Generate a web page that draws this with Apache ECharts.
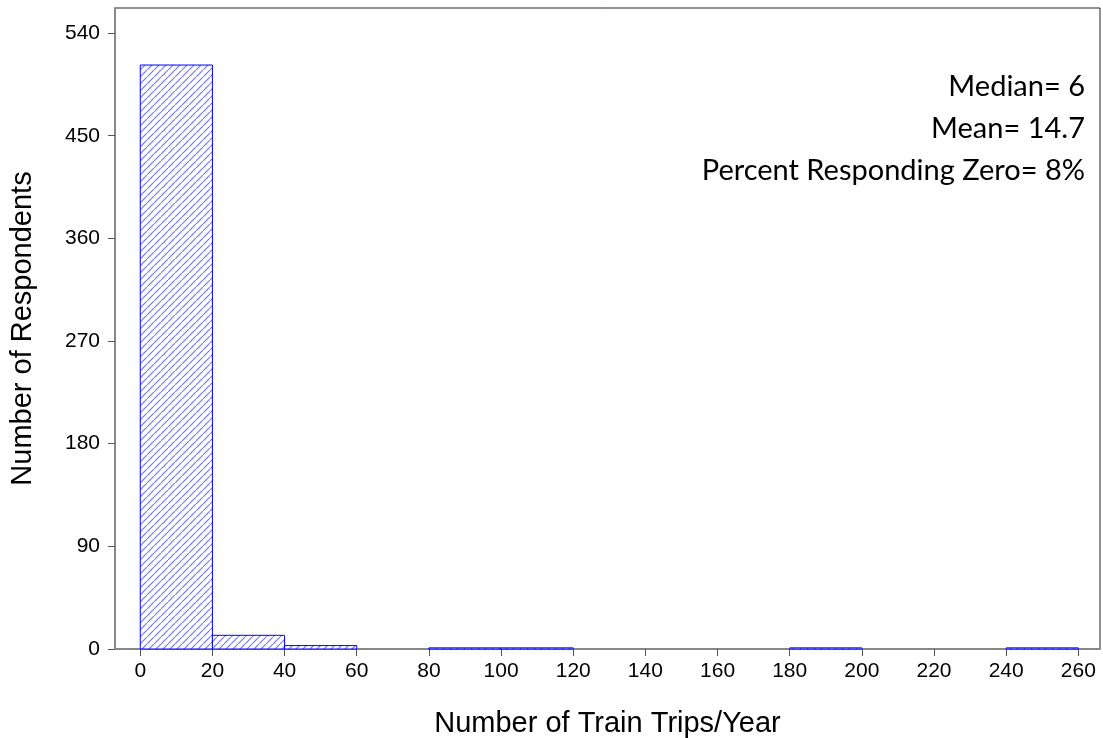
<!DOCTYPE html>
<html>
<head>
<meta charset="utf-8">
<script src="https://cdn.jsdelivr.net/npm/echarts@6/dist/echarts.min.js"></script>
<style>
  html, body { margin: 0; padding: 0; background: #fff; }
  #main { width: 1103px; height: 738px; }
</style>
</head>
<body>
<div id="main"></div>
<script>
// histogram bins (trips per year) and counts
var binStart = [0, 20, 40, 80, 100, 180, 240];
var binEnd = [20, 40, 60, 100, 120, 200, 260];
var counts = [512, 12, 3, 1, 1, 1, 1];

var xTicks = [0, 20, 40, 60, 80, 100, 120, 140, 160, 180, 200, 220, 240, 260];
var yTicks = [0, 90, 180, 270, 360, 450, 540];

var notes = ['Median= 6', 'Mean= 14.7', 'Percent Responding Zero= 8%'];

// diagonal hatch fill
function hatch() {
    var c = document.createElement('canvas');
    c.width = 7; c.height = 7;
    var ctx = c.getContext('2d');
    ctx.fillStyle = '#fff';
    ctx.fillRect(0, 0, 7, 7);
    ctx.strokeStyle = '#7777ff';
    ctx.lineWidth = 1.2;
    ctx.beginPath();
    ctx.moveTo(-1, 8); ctx.lineTo(8, -1);
    ctx.stroke();
    return c;
}
var pattern = { image: hatch(), repeat: 'repeat' };

var data = binStart.map(function (s, i) { return [s, binEnd[i], counts[i]]; });

var myChart = echarts.init(document.getElementById('main'));
var option = {
    animation: false,
    grid: {
        left: 115, top: 8, right: 3, bottom: 89,
        outerBoundsMode: 'none',
        show: true, borderColor: '#222', borderWidth: 1
    },
    xAxis: {
        type: 'value',
        min: -7, max: 266,
        name: 'Number of Train Trips/Year',
        nameLocation: 'middle',
        nameGap: 60,
        nameTextStyle: { fontFamily: 'Liberation Sans', fontSize: 29, color: '#000' },
        axisLine: { onZero: false, lineStyle: { color: '#888', width: 2 } },
        axisTick: { customValues: xTicks, length: 7, lineStyle: { color: '#555' } },
        axisLabel: { customValues: xTicks, fontFamily: 'Liberation Sans', fontSize: 21, color: '#000', margin: 12 },
        splitLine: { show: false }
    },
    yAxis: {
        type: 'value',
        min: 0, max: 562,
        name: 'Number of Respondents',
        nameLocation: 'middle',
        nameGap: 78,
        nameTextStyle: { fontFamily: 'Liberation Sans', fontSize: 29, color: '#000' },
        axisLine: { show: true, onZero: false, lineStyle: { color: '#888', width: 2 } },
        axisTick: { show: true, customValues: yTicks, length: 7, lineStyle: { color: '#555' } },
        axisLabel: { customValues: yTicks, fontFamily: 'Liberation Sans', fontSize: 21, color: '#000', margin: 15 },
        splitLine: { show: false }
    },
    series: [{
        type: 'custom',
        data: data,
        renderItem: function (params, api) {
            var p0 = api.coord([api.value(0), api.value(2)]);
            var p1 = api.coord([api.value(1), 0]);
            return {
                type: 'rect',
                shape: { x: p0[0], y: p0[1], width: p1[0] - p0[0], height: p1[1] - p0[1] },
                style: { fill: pattern, stroke: '#0000ff', lineWidth: 1 }
            };
        }
    }],
    graphic: notes.map(function (t, i) {
        return {
            type: 'text',
            right: 18,
            top: 72 + i * 42,
            style: { text: t, fontFamily: 'Lato', fontSize: 29, fill: '#000' }
        };
    })
};
myChart.setOption(option);
</script>
</body>
</html>
